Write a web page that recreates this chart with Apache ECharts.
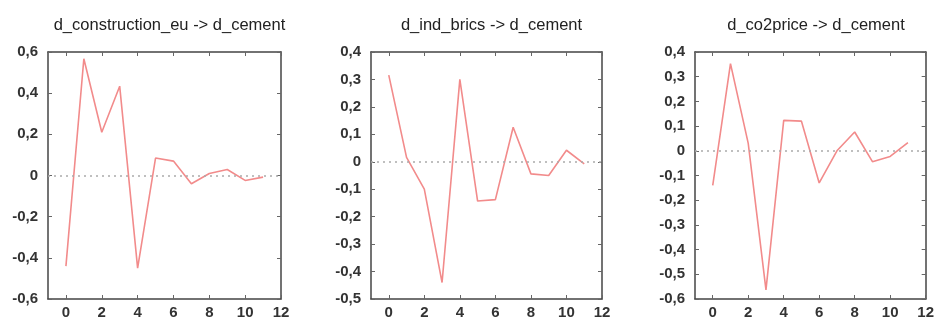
<!DOCTYPE html>
<html>
<head>
<meta charset="utf-8">
<script src="https://cdn.jsdelivr.net/npm/echarts@6/dist/echarts.min.js"></script>
<style>html,body{margin:0;padding:0;background:#fff}#c{width:937px;height:320px}</style>
</head>
<body>
<div id="c"></div>
<script>
// Data
const lags = [0, 1, 2, 3, 4, 5, 6, 7, 8, 9, 10, 11];
const titles = ["d_construction_eu -> d_cement", "d_ind_brics -> d_cement", "d_co2price -> d_cement"];
const constructionEu = [-0.44, 0.567, 0.21, 0.434, -0.45, 0.085, 0.07, -0.04, 0.01, 0.029, -0.024, -0.008];
const indBrics = [0.316, 0.016, -0.10, -0.44, 0.30, -0.143, -0.138, 0.126, -0.044, -0.05, 0.042, -0.008];
const co2price = [-0.14, 0.353, 0.03, -0.563, 0.123, 0.12, -0.13, 0.0, 0.076, -0.044, -0.023, 0.033];
const xTicks = [0, 2, 4, 6, 8, 10, 12];
const yRanges = [[-0.6, 0.6, 0.2], [-0.5, 0.4, 0.1], [-0.6, 0.4, 0.1]];
const seriesValues = [constructionEu, indBrics, co2price];

const grids = [
  {left: 48, top: 52, width: 233, height: 248},
  {left: 371, top: 52, width: 231, height: 249},
  {left: 695, top: 52, width: 232, height: 248}
];

const fmt = v => {
  const r = Math.round(v * 10) / 10;
  if (r === 0) return "0";
  return String(r).replace('.', ',');
};
const axisLineStyle = {show: true, onZero: false, lineStyle: {color: '#444', width: 1.5}};
const tickStyle = {show: true, inside: true, length: 4, lineStyle: {color: '#666', width: 1}};
const labelFont = {fontFamily: 'Liberation Sans, Arial, sans-serif', fontSize: 15, color: '#333', fontWeight: 'bold'};

const option = {
  animation: false,
  backgroundColor: '#fff',
  title: titles.map((t, i) => ({
    text: t,
    left: grids[i].left + grids[i].width / 2,
    textAlign: 'center',
    top: 12,
    textStyle: {fontFamily: 'Liberation Sans, Arial, sans-serif', fontSize: 16.5, fontWeight: 'normal', color: '#222'}
  })),
  grid: grids,
  xAxis: [],
  yAxis: [],
  series: []
};

grids.forEach((g, i) => {
  option.xAxis.push({
    type: 'value', gridIndex: i, min: -1, max: 12, position: 'bottom',
    splitLine: {show: false}, axisLine: axisLineStyle,
    axisTick: Object.assign({customValues: xTicks}, tickStyle),
    axisLabel: Object.assign({customValues: xTicks, margin: 6, formatter: v => String(v)}, labelFont)
  });
  option.xAxis.push({
    type: 'value', gridIndex: i, min: -1, max: 12, position: 'top',
    splitLine: {show: false}, axisLine: axisLineStyle,
    axisTick: Object.assign({customValues: xTicks}, tickStyle),
    axisLabel: {show: false}
  });
  const [mn, mx, step] = yRanges[i];
  const yVals = [];
  for (let k = 0; mn + k * step <= mx + 1e-9; k++) yVals.push(Math.round((mn + k * step) * 10) / 10);
  option.yAxis.push({
    type: 'value', gridIndex: i, min: mn, max: mx, position: 'left',
    splitLine: {show: false}, axisLine: axisLineStyle,
    axisTick: Object.assign({customValues: yVals}, tickStyle),
    axisLabel: Object.assign({customValues: yVals, margin: 10, formatter: fmt}, labelFont)
  });
  option.yAxis.push({
    type: 'value', gridIndex: i, min: mn, max: mx, position: 'right',
    splitLine: {show: false}, axisLine: axisLineStyle,
    axisTick: Object.assign({customValues: yVals}, tickStyle),
    axisLabel: {show: false}
  });
  option.series.push({
    type: 'line',
    xAxisIndex: i * 2, yAxisIndex: i * 2,
    data: lags.map((x, j) => [x, seriesValues[i][j]]),
    symbol: 'none',
    lineStyle: {color: '#f28b8b', width: 1.6},
    markLine: {
      silent: true, symbol: 'none',
      label: {show: false},
      lineStyle: {color: '#aaa', type: [2, 4], width: 1.5},
      data: [{yAxis: 0}]
    },
    z: 3
  });
});

const chart = echarts.init(document.getElementById('c'), null, {renderer: 'canvas'});
chart.setOption(option);
</script>
</body>
</html>
